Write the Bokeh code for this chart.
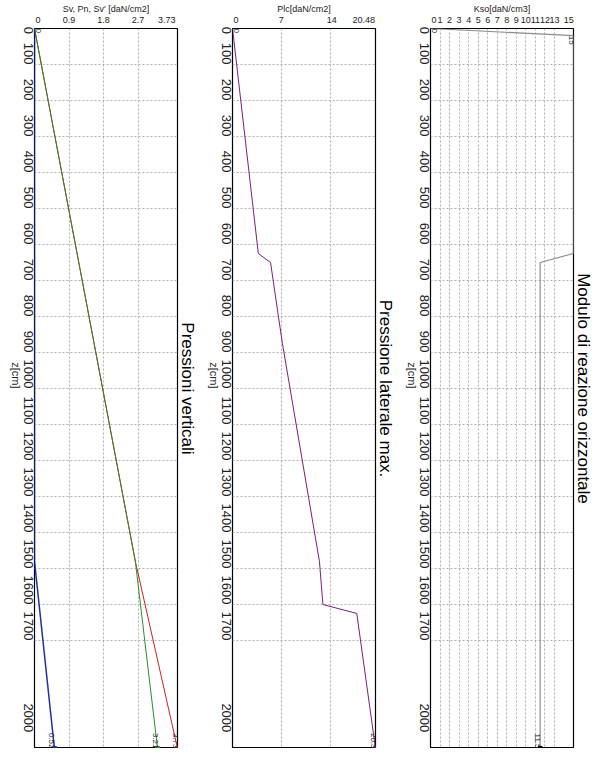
import math
from bokeh.plotting import figure
from bokeh.layouts import row
from bokeh.models import Range1d, FixedTicker
from bokeh.core.properties import value
from bokeh.embed import file_html
from bokeh.resources import INLINE

FONT = "Liberation Sans"

# ---------------- data ----------------
z_ticks = [0, 100, 200, 300, 400, 500, 600, 700, 800, 900, 1000,
           1100, 1200, 1300, 1400, 1500, 1600, 1700, 2000]
z_labels = [str(v) for v in z_ticks]
# label anchors (end labels are pulled inside the frame, as in the original)
z_label_pos = [15] + z_ticks[1:-1] + [1955]

# panel 1 : vertical pressures
p1_xticks = [0, 0.9, 1.8, 2.7, 3.73]
p1_xlabels = ["0", "0.9", "1.8", "2.7", "3.73"]
p1_xlabel_pos = [0.09, 0.9, 1.8, 2.7, 3.45]
z_sv = [0, 1480, 2000]
sv_tot = [0, 2.63, 3.73]
sv_eff = [0, 2.63, 3.21]
z_pn = [0, 1480, 2000]
pn = [0, 0, 0.52]

# panel 2 : max lateral pressure
p2_xticks = [0, 7, 14, 20.48]
p2_xlabels = ["0", "7", "14", "20.48"]
p2_xlabel_pos = [0.5, 7, 14.2, 18.8]
z_plc = [0, 625, 650, 874, 1480, 1600, 1625, 2000]
plc = [0, 3.7, 5.45, 7.14, 12.45, 12.95, 17.8, 20.48]

# panel 3 : horizontal reaction modulus
p3_xticks = [0, 1, 2, 3, 4, 5, 6, 7, 8, 9, 10, 11, 12, 13, 15]
p3_xlabels = ["0", "1", "2", "3", "4", "5", "6", "7", "8", "9",
              "10", "11", "12", "13", "15"]
p3_xlabel_pos = [0.38, 1, 2, 3, 4, 5, 6, 7, 8, 9, 10, 11, 12, 13, 14.5]
z_kso = [0, 20, 625, 650, 2000]
kso = [0, 15, 15, 11.5, 11.5]


def make_panel(xmax, xticks, xlabels, xlabel_pos, xtitle, title):
    p = figure(width=198, height=748,
               x_range=Range1d(0, xmax), y_range=Range1d(2000, 0),
               x_axis_location="above", output_backend="svg",
               toolbar_location=None, title=title, title_location="right",
               min_border=0,
               min_border_left=27, min_border_right=18,
               min_border_top=0, min_border_bottom=0)
    p.background_fill_color = "white"
    p.border_fill_color = "white"
    p.outline_line_color = "black"
    p.outline_line_width = 1.2

    t = p.title
    t.text_font = FONT
    t.text_font_size = "17px"
    t.text_font_style = "normal"
    t.text_color = "black"
    t.align = "center"
    t.standoff = 0

    xa = p.xaxis[0]
    xa.ticker = FixedTicker(ticks=xlabel_pos)
    xa.major_label_overrides = {pos: lb for pos, lb in zip(xlabel_pos, xlabels)}
    xa.axis_label = xtitle
    xa.axis_label_text_font = FONT
    xa.axis_label_text_font_size = "9px"
    xa.axis_label_text_font_style = "normal"
    xa.axis_label_text_color = "#222222"
    xa.axis_label_standoff = 0
    xa.major_label_text_font = FONT
    xa.major_label_text_font_size = "9px"
    xa.major_label_text_color = "#222222"
    xa.major_label_standoff = 0
    xa.major_tick_line_color = None
    xa.minor_tick_line_color = None
    xa.axis_line_color = None

    ya = p.yaxis[0]
    ya.ticker = FixedTicker(ticks=z_label_pos)
    ya.major_label_overrides = {pos: lb for pos, lb in zip(z_label_pos, z_labels)}
    ya.major_label_orientation = -math.pi / 2
    ya.major_label_text_font = FONT
    ya.major_label_text_font_size = "13px"
    ya.major_label_text_color = "#222222"
    ya.major_label_standoff = 0
    ya.axis_label = "z[cm]"
    ya.axis_label_text_font = FONT
    ya.axis_label_text_font_size = "11px"
    ya.axis_label_text_font_style = "normal"
    ya.axis_label_text_color = "#222222"
    ya.axis_label_standoff = 1
    try:
        ya.axis_label_orientation = -math.pi / 2
    except Exception:
        pass
    ya.major_tick_line_color = None
    ya.minor_tick_line_color = None
    ya.axis_line_color = None

    p.xgrid.ticker = FixedTicker(ticks=xticks)
    p.ygrid.ticker = FixedTicker(ticks=z_ticks)
    for g in (p.xgrid[0], p.ygrid[0]):
        g.grid_line_color = "#b0b0b0"
        g.grid_line_dash = "2 2"
        g.grid_line_width = 1
    return p


def lab(p, x, y, txt, align, base, color="#222222"):
    p.text(x=[x], y=[y], text=[txt], angle=-math.pi / 2,
           text_align=align, text_baseline=base,
           text_font=value(FONT), text_font_size="8px", text_color=color)


# ---- panel 1
p1 = make_panel(3.73, p1_xticks, p1_xlabels, p1_xlabel_pos,
                "Sv, Pn, Sv' [daN/cm2]", "Pressioni verticali")
p1.line(sv_tot, z_sv, line_color="#d02020", line_width=1)
p1.line(sv_eff, z_sv, line_color="#2a8a2a", line_width=1)
p1.line(pn, z_pn, line_color="#2030a0", line_width=1.5)
p1.scatter([sv_tot[-1]], [z_sv[-1]], marker="square", size=4, color="#d02020")
p1.scatter([sv_eff[-1]], [z_sv[-1]], marker="square", size=4, color="#2a8a2a")
p1.scatter([pn[-1]], [z_pn[-1]], marker="square", size=4, color="#2030a0")
lab(p1, 0.05, 0, "0", "left", "bottom")
lab(p1, sv_tot[-1], 2000, "3.73", "right", "top")
lab(p1, sv_eff[-1], 2000, "3.21", "right", "top")
lab(p1, pn[-1], 2000, "0.52", "right", "top")

# ---- panel 2
p2 = make_panel(20.48, p2_xticks, p2_xlabels, p2_xlabel_pos,
                "Plc[daN/cm2]", "Pressione laterale max.")
p2.line(plc, z_plc, line_color="#7a1f7a", line_width=1)
p2.scatter([plc[-1]], [z_plc[-1]], marker="square", size=4, color="#7a1f7a")
lab(p2, 0.25, 0, "0", "left", "bottom")
lab(p2, plc[-1], 2000, "20.5", "right", "top")

# ---- panel 3
p3 = make_panel(15, p3_xticks, p3_xlabels, p3_xlabel_pos,
                "Kso[daN/cm3]", "Modulo di reazione orizzontale")
p3.line(kso, z_kso, line_color="#8c8c8c", line_width=1.2)
p3.scatter([kso[-1]], [z_kso[-1]], marker="square", size=4, color="black")
lab(p3, 0.2, 0, "0", "left", "bottom")
lab(p3, kso[1], z_kso[1], "15", "left", "top")
lab(p3, kso[-1], 2000, "11.5", "right", "top")

layout = row(p1, p2, p3, spacing=0)
open("out.html", "w").write(file_html(layout, INLINE))
